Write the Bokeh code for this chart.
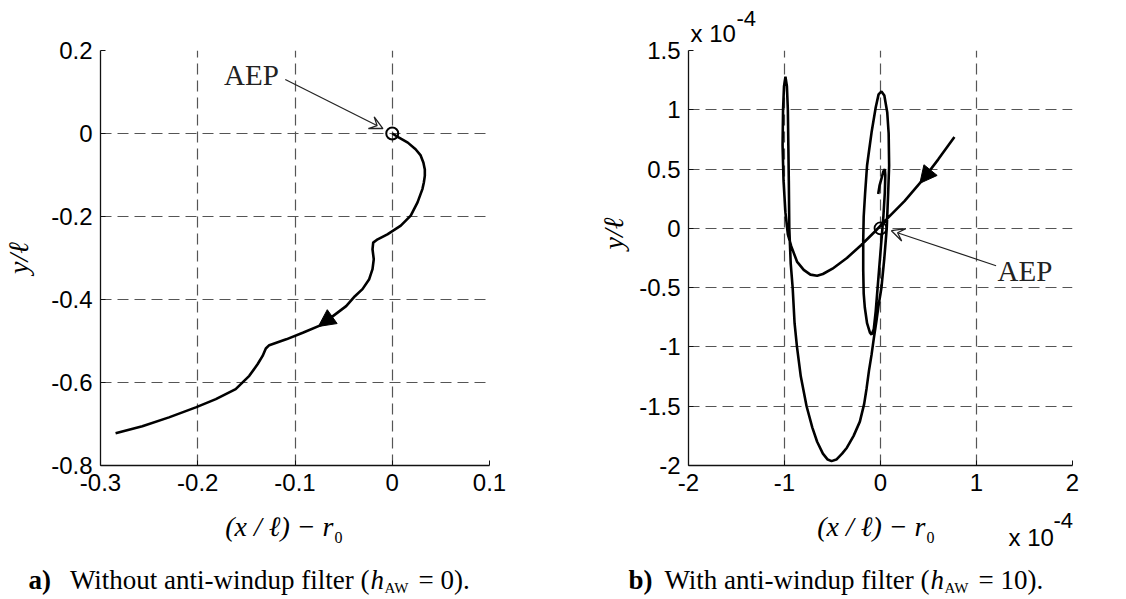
import math
from bokeh.plotting import figure
from bokeh.layouts import row, column
from bokeh.models import (Range1d, FixedTicker, Label, Arrow, NormalHead, VeeHead, Title)
from bokeh.embed import file_html
from bokeh.resources import INLINE

# ---------------- data ----------------
# panel a) without anti-windup filter
x_a = [0.0, 0.007, 0.016, 0.024, 0.029, 0.032, 0.0335, 0.0335, 0.0325, 0.031, 0.026,
       0.019, 0.0088, -0.005, -0.015, -0.0196, -0.0203, -0.019, -0.0203, -0.0237,
       -0.0306, -0.0384, -0.0474, -0.061, -0.0715, -0.092, -0.109, -0.1265, -0.13,
       -0.1333, -0.1385, -0.147, -0.161, -0.1814, -0.202, -0.2296, -0.257, -0.2845]
y_a = [0.0, -0.01, -0.022, -0.038, -0.052, -0.07, -0.087, -0.102, -0.118, -0.134, -0.166,
       -0.198, -0.222, -0.243, -0.255, -0.263, -0.279, -0.303, -0.327, -0.351,
       -0.375, -0.392, -0.416, -0.44, -0.46, -0.48, -0.496, -0.51, -0.518,
       -0.536, -0.556, -0.584, -0.616, -0.64, -0.66, -0.684, -0.7056, -0.7224]

# panel b) with anti-windup filter (values in units of 1e-4)
x_b = [0.77, 0.6, 0.43, 0.25, 0.08, -0.05, -0.2, -0.35, -0.5, -0.6, -0.66, -0.73, -0.8,
       -0.87, -0.93, -0.965, -0.99, -1.01, -1.02, -1.015, -1.005, -0.99, -0.975, -0.965,
       -0.96, -0.955, -0.95, -0.935, -0.915, -0.895, -0.87, -0.83, -0.77, -0.71, -0.66,
       -0.6, -0.55, -0.51, -0.46, -0.4, -0.35, -0.28, -0.215, -0.17, -0.145, -0.12,
       -0.093, -0.07, -0.042, -0.02, 0.01, 0.04, 0.065, 0.08, 0.09, 0.085, 0.07, 0.04,
       0.01, -0.02, -0.05, -0.093, -0.12, -0.14, -0.16, -0.175, -0.18, -0.18, -0.175,
       -0.163, -0.14, -0.11, -0.093, -0.07, -0.05, -0.03, -0.01, 0.01, 0.03, 0.045,
       0.05, 0.045, 0.03, 0.01, -0.01, -0.024]
y_b = [0.77, 0.58, 0.40, 0.23, 0.09, -0.02, -0.14, -0.25, -0.34, -0.385, -0.40, -0.39, -0.35,
       -0.28, -0.15, -0.05, 0.13, 0.4, 0.7, 1.0, 1.2, 1.28, 1.2, 1.0,
       0.7, 0.4, 0.0, -0.3, -0.5, -0.8, -1.0, -1.25, -1.5, -1.68, -1.8,
       -1.9, -1.95, -1.963, -1.95, -1.9, -1.85, -1.75, -1.63, -1.48, -1.35, -1.2,
       -1.065, -0.93, -0.78, -0.65, -0.5, -0.25, 0.0, 0.3, 0.53, 0.8, 0.98, 1.12,
       1.155, 1.13, 1.02, 0.81, 0.65, 0.53, 0.3, 0.1, -0.1, -0.35, -0.55,
       -0.67, -0.8, -0.88, -0.896, -0.85, -0.7, -0.5, -0.3, -0.1, 0.1, 0.3,
       0.45, 0.5, 0.48, 0.42, 0.36, 0.29]

aep_x = [0.0]
aep_y = [0.0]

xticks_a = [-0.3, -0.2, -0.1, 0.0, 0.1]
xlabels_a = ["-0.3", "-0.2", "-0.1", "0", "0.1"]
yticks_a = [-0.8, -0.6, -0.4, -0.2, 0.0, 0.2]
ylabels_a = ["-0.8", "-0.6", "-0.4", "-0.2", "0", "0.2"]

xticks_b = [-2, -1, 0, 1, 2]
xlabels_b = ["-2", "-1", "0", "1", "2"]
yticks_b = [-2, -1.5, -1, -0.5, 0, 0.5, 1, 1.5]
ylabels_b = ["-2", "-1.5", "-1", "-0.5", "0", "0.5", "1", "1.5"]

SANS = "Liberation Sans"
SERIF = "Liberation Serif"
GRID = "#555555"
TOP, FH, BOT = 50, 415, 37
STRIP_H = 96


def style(p, xt, xl, yt, yl):
    p.outline_line_color = None
    p.background_fill_color = "white"
    p.border_fill_color = "white"
    p.xaxis.ticker = FixedTicker(ticks=xt)
    p.yaxis.ticker = FixedTicker(ticks=yt)
    p.xaxis.major_label_overrides = {float(t): s for t, s in zip(xt, xl)}
    p.yaxis.major_label_overrides = {float(t): s for t, s in zip(yt, yl)}
    for ax in (p.xaxis, p.yaxis):
        ax.major_label_text_font = SANS
        ax.major_label_text_font_size = "24px"
        ax.major_label_text_color = "black"
        ax.axis_line_color = "#111111"
        ax.axis_line_width = 1.3
        ax.major_tick_line_color = "#111111"
        ax.major_tick_in = 5
        ax.major_tick_out = 0
        ax.minor_tick_line_color = None
        ax.major_label_standoff = 8
        ax.axis_label_text_font = SERIF
        ax.axis_label_text_font_style = "italic"
        ax.axis_label_text_font_size = "28px"
        ax.axis_label_text_color = "black"
    p.grid.grid_line_color = GRID
    p.grid.grid_line_dash = "11 6"
    p.grid.grid_line_width = 1.2


def lab(p, x, y, text, font=SERIF, size="28px", style_="normal", align="left",
        color="black"):
    p.add_layout(Label(x=x, y=y, text=text, text_font=font, text_font_size=size,
                       text_font_style=style_, text_align=align,
                       text_baseline="middle", text_color=color))


# ---------------- panel a ----------------
pa = figure(frame_width=389, frame_height=FH, x_range=Range1d(-0.3, 0.1),
            y_range=Range1d(-0.8, 0.2), output_backend="svg", toolbar_location=None,
            min_border_left=98, min_border_right=73, min_border_top=TOP,
            min_border_bottom=BOT)
style(pa, xticks_a, xlabels_a, yticks_a, ylabels_a)
pa.yaxis.axis_label = "y/ℓ"
pa.yaxis.axis_label_standoff = 14
pa.line(x_a, y_a, line_color="black", line_width=2.6)
pa.scatter(aep_x, aep_y, marker="circle", size=12, fill_color=None,
           line_color="black", line_width=2)
pa.add_layout(Arrow(end=NormalHead(size=17, fill_color="black", line_color="black"),
                    x_start=-0.061, y_start=-0.44, x_end=-0.076, y_end=-0.465,
                    line_alpha=0, line_width=0))
pa.add_layout(Arrow(end=VeeHead(size=13, fill_alpha=0, line_color="#222222", line_width=1.3),
                    x_start=-0.110, y_start=0.130, x_end=-0.0096, y_end=0.012,
                    line_color="#222222", line_width=1.2))
lab(pa, -0.173, 0.142, "AEP", size="29px", color="#222222")

# ---------------- panel b ----------------
pb = figure(frame_width=384, frame_height=FH, x_range=Range1d(-2, 2),
            y_range=Range1d(-2, 1.5), output_backend="svg", toolbar_location=None,
            min_border_left=126, min_border_right=54, min_border_top=TOP,
            min_border_bottom=BOT)
style(pb, xticks_b, xlabels_b, yticks_b, ylabels_b)
pb.yaxis.axis_label = "\u00a0" * 7 + "y/ℓ"
pb.yaxis.axis_label_standoff = 7
pb.add_layout(Title(text="x 10", align="left", offset=2, text_font=SANS,
                    text_font_size="24px", text_font_style="normal",
                    text_color="black", standoff=7), "above")
pb.add_layout(Title(text="-4", align="left", offset=48, text_font=SANS,
                    text_font_size="22px", text_font_style="normal",
                    text_color="black", standoff=-22), "above")
pb.line(x_b, y_b, line_color="black", line_width=2.6)
pb.scatter(aep_x, aep_y, marker="circle", size=12, fill_color=None,
           line_color="black", line_width=1.8)
pb.add_layout(Arrow(end=NormalHead(size=17, fill_color="black", line_color="black"),
                    x_start=0.56, y_start=0.53, x_end=0.41, y_end=0.38,
                    line_alpha=0, line_width=0))
pb.add_layout(Arrow(end=VeeHead(size=13, fill_alpha=0, line_color="#222222", line_width=1.3),
                    x_start=1.204, y_start=-0.315, x_end=0.114, y_end=-0.02,
                    line_color="#222222", line_width=1.2))
lab(pb, 1.22, -0.358, "AEP", size="29px", color="#222222")

# ---------------- bottom strip: axis titles and captions ----------------
st = figure(width=1124, height=STRIP_H, x_range=Range1d(0, 1124),
            y_range=Range1d(STRIP_H, 0), output_backend="svg", toolbar_location=None,
            x_axis_type=None, y_axis_type=None, min_border=0,
            min_border_left=0, min_border_right=0, min_border_top=0,
            min_border_bottom=0)
st.outline_line_color = None
st.grid.visible = False

# x-axis titles
lab(st, 333, 23.5, "(x / ℓ) − r", style_="italic", align="right")
lab(st, 334, 34.6, "0", size="16px")
lab(st, 925, 23.5, "(x / ℓ) − r", style_="italic", align="right")
lab(st, 926, 34.6, "0", size="16px")
# exponent below panel b
lab(st, 1008, 34.7, "x 10", font=SANS, size="24px")
lab(st, 1053, 18.4, "-4", font=SANS, size="22px")
# captions
CAP_Y = 77
lab(st, 28, CAP_Y, "a)", size="27px", style_="bold")
lab(st, 369, CAP_Y, "Without anti-windup filter (", size="27px", align="right")
lab(st, 370, CAP_Y, "h", size="27px", style_="italic")
lab(st, 384, CAP_Y + 8, "AW", size="15px")
lab(st, 418, CAP_Y, "= 0).", size="27px")
lab(st, 628, CAP_Y, "b)", size="27px", style_="bold")
lab(st, 929, CAP_Y, "With anti-windup filter (", size="27px", align="right")
lab(st, 930, CAP_Y, "h", size="27px", style_="italic")
lab(st, 944, CAP_Y + 8, "AW", size="15px")
lab(st, 978, CAP_Y, "= 10).", size="27px")

layout = column(row(pa, pb), st)
open("out.html", "w").write(file_html(layout, INLINE))
